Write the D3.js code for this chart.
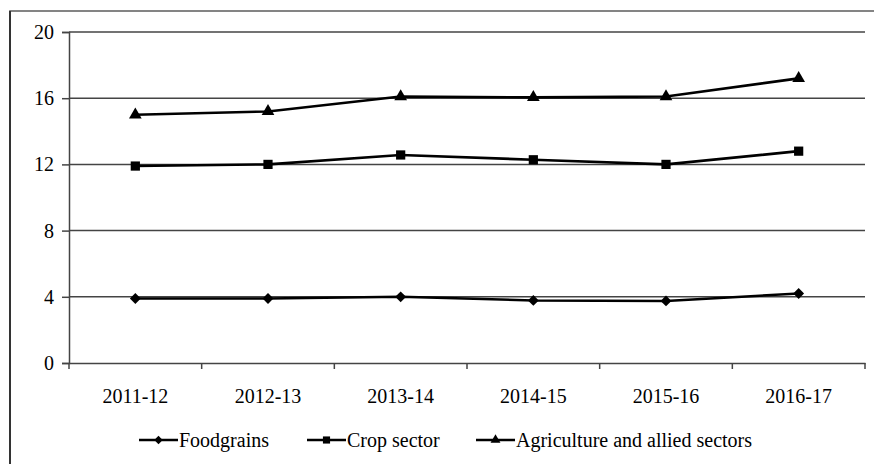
<!DOCTYPE html>
<html><head><meta charset="utf-8">
<script src="https://cdn.jsdelivr.net/npm/d3@7"></script>
<style>body{margin:0;background:#fff}svg{display:block}</style>
</head><body><svg id="c" width="874" height="464"></svg>
<script>
const categories = ["2011-12","2012-13","2013-14","2014-15","2015-16","2016-17"];
const foodgrains = [3.9, 3.9, 4.0, 3.78, 3.75, 4.2];
const cropSector = [11.9, 12.0, 12.57, 12.28, 12.0, 12.8];
const agriculture = [15.0, 15.2, 16.1, 16.05, 16.1, 17.2];
const yTicks = [0, 4, 8, 12, 16, 20];
const seriesNames = ["Foodgrains", "Crop sector", "Agriculture and allied sectors"];
const seriesShapes = [d3.symbolDiamond2, d3.symbolSquare, d3.symbolTriangle];

const svg = d3.select("#c");
const m = {l:69, r:865, t:32, b:363};
const FONT = "Liberation Serif";
// outer frame
svg.append("rect").attr("x",10).attr("y",11).attr("width",900).attr("height",500)
  .attr("fill","none").attr("stroke","#666").attr("stroke-width",1.6);
svg.append("line").attr("x1",10).attr("x2",10).attr("y1",11).attr("y2",464).attr("stroke","#333").attr("stroke-width",2);

const x = d3.scaleBand().domain(categories).range([m.l, m.r]);
const y = d3.scaleLinear().domain([0,20]).range([m.b, m.t]);

// gridlines
svg.append("g").selectAll("line").data(yTicks.filter(d=>d>0)).join("line")
  .attr("x1",m.l).attr("x2",m.r).attr("y1",d=>y(d)).attr("y2",d=>y(d))
  .attr("stroke","#444").attr("stroke-width",1.5);

// y axis
const ya = svg.append("g").attr("transform",`translate(${m.l},0)`)
  .call(d3.axisLeft(y).tickValues(yTicks).tickSize(7).tickPadding(8))
  .attr("font-family",FONT).attr("font-size",20);
ya.select(".domain").attr("stroke","#444").attr("stroke-width",1.5);
ya.selectAll(".tick line").attr("stroke","#444").attr("stroke-width",1.5);
ya.selectAll("text").attr("fill","#000");

// x axis
const xa = svg.append("g").attr("transform",`translate(0,${m.b})`)
  .call(d3.axisBottom(x).tickSize(0).tickPadding(26))
  .attr("font-family",FONT).attr("font-size",20);
xa.select(".domain").attr("stroke","#444").attr("stroke-width",1.5);
xa.selectAll("text").attr("fill","#000");
// boundary tick marks
const bounds = categories.map(c=>x(c)).concat([m.r]);
svg.append("g").selectAll("line").data(bounds).join("line")
  .attr("x1",d=>d).attr("x2",d=>d).attr("y1",m.b).attr("y2",m.b+6)
  .attr("stroke","#444").attr("stroke-width",1.5);

const allSeries = [foodgrains, cropSector, agriculture];
const sizes = [75, 85, 70];
const line = d3.line().x((d,i)=>x(categories[i])+x.bandwidth()/2).y(d=>y(d));
allSeries.forEach((s,k)=>{
  svg.append("path").datum(s).attr("d",line).attr("fill","none")
    .attr("stroke","#000").attr("stroke-width",2.6);
  svg.append("g").selectAll("path").data(s).join("path")
    .attr("transform",(d,i)=>`translate(${x(categories[i])+x.bandwidth()/2},${y(d)})`)
    .attr("d",d3.symbol().type(seriesShapes[k]).size(sizes[k])).attr("fill","#000");
});

// legend
const legendX = [139, 307, 476];
const ly = 440;
seriesNames.forEach((n,k)=>{
  const g = svg.append("g").attr("transform",`translate(${legendX[k]},${ly})`);
  g.append("line").attr("x1",0).attr("x2",39).attr("stroke","#000").attr("stroke-width",2.4);
  g.append("path").attr("transform","translate(19.5,0)")
    .attr("d",d3.symbol().type(seriesShapes[k]).size(sizes[k]*0.6)).attr("fill","#000");
  g.append("text").attr("x",40).attr("y",7).attr("font-family",FONT).attr("font-size",20).attr("fill","#000").text(n);
});
</script></body></html>
